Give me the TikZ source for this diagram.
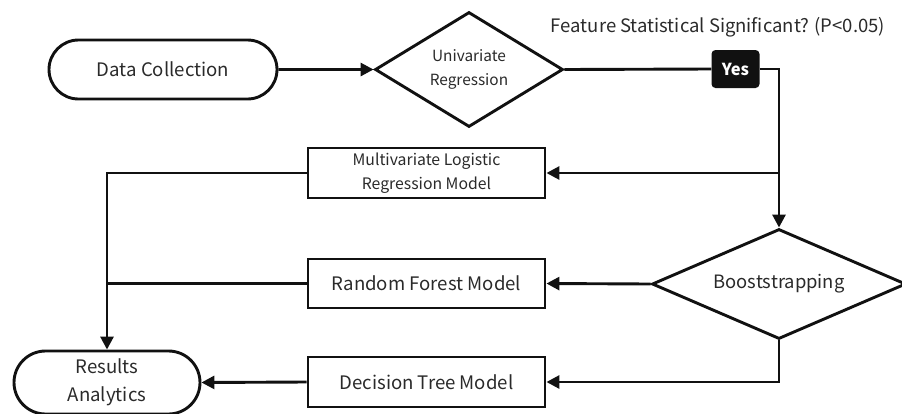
\documentclass[tikz,border=0pt]{standalone}
\usepackage{fontspec}
\setmainfont{Noto Sans CJK SC}
\usetikzlibrary{shapes.geometric,shapes.misc,arrows.meta}
\definecolor{ink}{HTML}{111111}
\definecolor{txt}{HTML}{2a2a2a}
\tikzset{
  base/.style={draw=ink, line width=2.9pt, text=txt, align=center, inner sep=0pt},
  stadium/.style={base, rounded rectangle},
  boxnode/.style={base, rectangle},
  decide/.style={base, diamond, aspect=2.4},
  arr/.style={draw=ink, line width=2.9pt, -{Triangle[length=13pt,width=13pt]}},
  ln/.style={draw=ink, line width=2.9pt},
}
\begin{document}
\begin{tikzpicture}[x=1pt,y=-1pt]
\useasboundingbox (0,0) rectangle (902,413);
\node[stadium, minimum width=228pt, minimum height=59pt, font=\fontsize{18.6}{22}\selectfont] (dc) at (163,69.5) {Data Collection};
\node[decide, minimum width=188pt, minimum height=115pt, font=\fontsize{15.4}{24}\selectfont] (ur) at (469,69.5) {Univariate\\Regression};
\node[rounded corners=4pt, fill=ink, text=white, minimum width=48pt, minimum height=38pt, inner sep=0pt, font=\fontsize{16.5}{18}\selectfont\bfseries] (yes) at (735.5,69) {Yes};
\node[text=txt, font=\fontsize{18.5}{22}\selectfont, inner sep=0pt] (title) at (718,27) {Feature Statistical Significant? (P<0.05)};
\node[boxnode, minimum width=237pt, minimum height=50pt, font=\fontsize{15.8}{24}\selectfont] (mlr) at (426.5,173) {Multivariate Logistic\\Regression Model};
\node[boxnode, minimum width=237pt, minimum height=49pt, font=\fontsize{18.6}{22}\selectfont] (rf) at (426.5,283.5) {Random Forest Model};
\node[boxnode, minimum width=237pt, minimum height=50pt, font=\fontsize{18.6}{22}\selectfont] (dt) at (426.5,382) {Decision Tree Model};
\node[decide, minimum width=254pt, minimum height=110pt, font=\fontsize{18.4}{22}\selectfont] (boot) at (779,284) {Booststrapping};
\node[stadium, minimum width=186pt, minimum height=63pt, font=\fontsize{18.6}{28}\selectfont] (ra) at (107,382.5) {Results\\Analytics};
\coordinate (j) at (boot.north |- mlr.east);
\draw[arr] (dc) -- (ur);
\draw[ln] (ur.east) -- (yes.west);
\draw[arr] (yes.east) -| (boot.north);
\draw[arr] (j) -- (mlr.east);
\draw[arr] (mlr.west) -| (ra.north);
\draw[ln] (rf.west) -- (rf.west -| ra.north);
\draw[arr] (boot.west) -- (rf.east);
\draw[arr] (boot.south) |- (dt.east);
\draw[arr] (dt.west) -- (ra.east);
\end{tikzpicture}
\end{document}
